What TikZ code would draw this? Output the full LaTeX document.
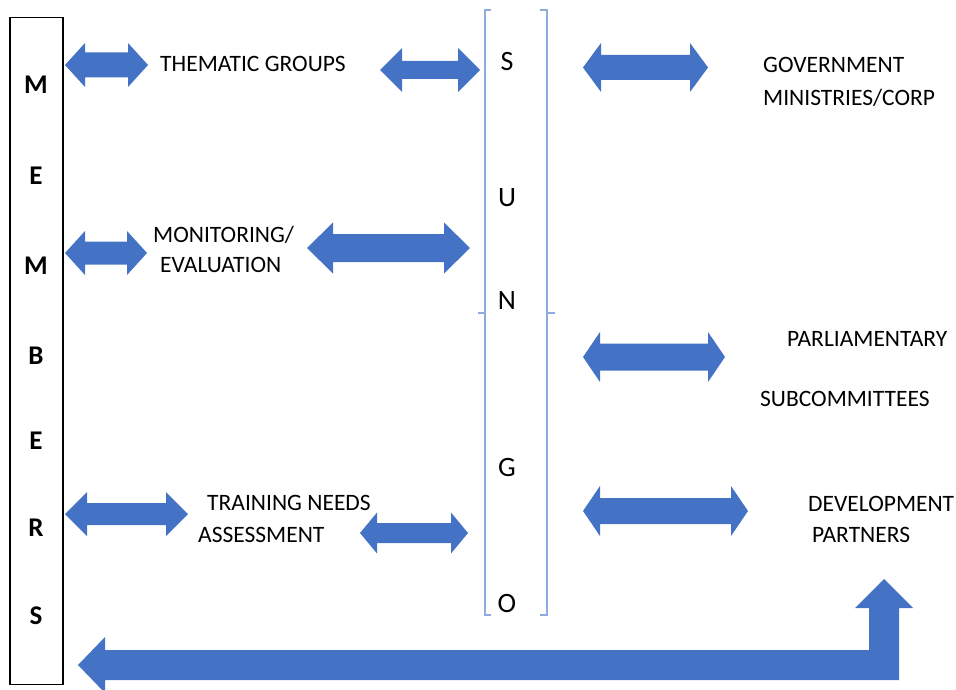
\documentclass[tikz,border=0pt]{standalone}
\usepackage{fontspec}
\setmainfont{Carlito}
\usetikzlibrary{positioning,calc}

\definecolor{arrowblue}{HTML}{4472C4}
\definecolor{bracketblue}{HTML}{8FAADC}

% double block arrow: west tip, east tip, shaft half width, head half width, head length
\newcommand{\dblarrow}[5]{%
  \fill[blockarrow] (#1) -- ($(#1)+(#5,-#4)$) -- ($(#1)+(#5,-#3)$) -- ($(#2)+(-#5,-#3)$)
    -- ($(#2)+(-#5,-#4)$) -- (#2) -- ($(#2)+(-#5,#4)$) -- ($(#2)+(-#5,#3)$)
    -- ($(#1)+(#5,#3)$) -- ($(#1)+(#5,#4)$) -- cycle;}

\begin{document}
\begin{tikzpicture}[x=1pt, y=-1pt]
    \tikzstyle{blockarrow}=[fill=arrowblue]
    \tikzstyle{bracket}=[draw=bracketblue, line width=2pt]
    \tikzstyle{label}=[inner sep=0pt, anchor=west, text height=15.5pt, text depth=0pt,
                       font=\fontsize{23.5}{27}\selectfont]
    \tikzstyle{member letter}=[inner sep=0pt, text height=18pt, text depth=0pt,
                       font=\fontsize{27}{31}\selectfont\bfseries]
    \tikzstyle{sungo letter}=[inner sep=0pt, text height=18pt, text depth=0pt,
                       font=\fontsize{28}{32}\selectfont]

    \useasboundingbox (0,0) rectangle (956,690);

    \node[draw, line width=1.4pt, minimum width=53pt, minimum height=667pt, inner sep=0pt]
        (members) at (36.5,351) {};
    \foreach \l/\y [count=\i] in {M/85,E/175,M/265,B/355,E/440,R/527,S/615}
        \node[member letter] (mem-\i) at (36,\y) {\l};

    \foreach \l/\y [count=\i] in {S/62,U/197,N/300,G/467,O/603}
        \node[sungo letter] (sungo-\i) at (507,\y) {\l};

    \draw[bracket] (491,10) -- (485,10) -- (485,615) -- (491,615);
    \draw[bracket] (485,313) -- (478,313);
    \draw[bracket] (540,10) -- (547,10) -- (547,615) -- (540,615);
    \draw[bracket] (547,313) -- (555,313);

    \node[label] (thematic) at (160,64) {THEMATIC GROUPS};
    \node[label] (govt) at (763,65) {GOVERNMENT};
    \node[label] (ministries) at (763,98) {MINISTRIES/CORP};
    \node[label] (monitoring) at (153,235) {MONITORING/};
    \node[label] (evaluation) at (160,265) {EVALUATION};
    \node[label] (parliament) at (787,339) {PARLIAMENTARY};
    \node[label] (subcomm) at (760,399) {SUBCOMMITTEES};
    \node[label] (training) at (207,503) {TRAINING NEEDS};
    \node[label] (assessment) at (198,535) {ASSESSMENT};
    \node[label] (devel) at (808,504) {DEVELOPMENT};
    \node[label] (partners) at (812,535) {PARTNERS};

    \foreach \i/\xl/\xr/\y/\s/\h/\len in {1/65/148/65/12.5/22/20, 2/380/480/70/9/22/22,
            3/583/708/67.5/12.5/24.5/18, 4/65/147/253/11.5/22/20, 5/307/470/248/14/25.5/26,
            6/583/725/357/13.5/25/17, 7/65/188/514/11/22/22, 8/360/468/533/10/20.5/17,
            9/583/748/511/13/25/17} {
        \coordinate (da\i-w) at (\xl,\y);
        \coordinate (da\i-e) at (\xr,\y);
        \dblarrow{da\i-w}{da\i-e}{\s}{\h}{\len}
    }

    \coordinate (back-tip) at (78,665);
    \coordinate (back-up) at (884,579);
    \fill[blockarrow] (back-tip) -- ++(27,-28) -- ++(0,13) -- (869,650) -- (869,608)
        -- (855,608) -- (back-up) -- (913,608) -- (899,608) -- (899,680) -- (105,680)
        -- (105,693) -- cycle;
\end{tikzpicture}
\end{document}
